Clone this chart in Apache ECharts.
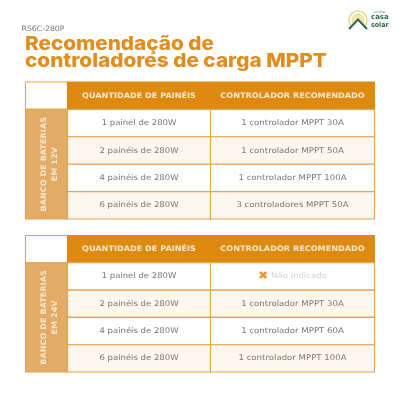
<!DOCTYPE html>
<html>
<head>
<meta charset="utf-8">
<style>
html, body { margin: 0; padding: 0; background: #fff; }
#chart { width: 400px; height: 400px; }
</style>
<script src="https://cdn.jsdelivr.net/npm/echarts@6/dist/echarts.min.js"></script>
</head>
<body>
<div id="chart"></div>
<script>
const modelLabel = "RS6C-280P";
const titleLines = ["Recomendação de", "controladores de carga MPPT"];
const columnHeaders = ["QUANTIDADE DE PAINÉIS", "CONTROLADOR RECOMENDADO"];
const panelCounts = ["1 painel de 280W", "2 painéis de 280W", "4 painéis de 280W", "6 painéis de 280W"];
const controllers12V = ["1 controlador MPPT 30A", "1 controlador MPPT 50A", "1 controlador MPPT 100A", "3 controladores MPPT 50A"];
const controllers24V = ["Não indicado", "1 controlador MPPT 30A", "1 controlador MPPT 60A", "1 controlador MPPT 100A"];
const bankLabels = ["BANCO DE BATERIAS\nEM 12V", "BANCO DE BATERIAS\nEM 24V"];
const notIndicated = "Não indicado";

// column edges of the table, in axis units
const colEdges = [0, 42, 185, 349];

const ORANGE = "#de8a10";
const BORDER = "#e5a44f";
const BAND = "#e2ab66";
const CREAM = "#fdf7ee";
const TEXT = "#777";
const FONT = "'DejaVu Sans'";

function buildCells(bank, controllers) {
    const cells = [[0, 0, 1, 1, "", "blank"], [1, 0, 1, 1, columnHeaders[0], "head"], [2, 0, 1, 1, columnHeaders[1], "head"]];
    cells.push([0, 1, 1, 4, bank, "band"]);
    panelCounts.forEach(function (p, i) {
        const kind = i % 2 === 0 ? "white" : "cream";
        cells.push([1, i + 1, 1, 1, p, kind]);
        cells.push([2, i + 1, 1, 1, controllers[i], kind]);
    });
    return cells;
}

function renderCell(params, api) {
    const col = api.value(0), row = api.value(1), rows = api.value(3);
    const text = api.value(4), kind = api.value(5);
    const p0 = api.coord([colEdges[col], row]);
    const p1 = api.coord([colEdges[col + 1], row + rows]);
    const cx = (p0[0] + p1[0]) / 2, cy = (p0[1] + p1[1]) / 2;
    const fills = { blank: "#fff", head: ORANGE, band: BAND, white: "#fff", cream: CREAM };
    const children = [{
        type: "rect",
        shape: { x: p0[0], y: p0[1], width: p1[0] - p0[0], height: p1[1] - p0[1] },
        style: { fill: fills[kind], stroke: kind === "head" ? ORANGE : BORDER, lineWidth: 1.1 }
    }];
    if (kind === "head") {
        children.push({
            type: "text", x: cx, y: cy, scaleX: 1.07,
            style: { text: text, align: "center", verticalAlign: "middle", fill: "#f9e8cc", font: "bold 7.6px " + FONT }
        });
    } else if (kind === "band") {
        children.push({
            type: "text", x: cx + 3, y: cy, rotation: Math.PI / 2, scaleX: 1.07,
            style: { text: text, align: "center", verticalAlign: "middle", fill: "#f7e6cf", font: "bold 7.6px " + FONT, lineHeight: 11 }
        });
    } else if (text === notIndicated) {
        children.push({
            type: "text", x: cx, y: cy, scaleX: 1.1,
            style: {
                text: "{x|✖} " + text, align: "center", verticalAlign: "middle",
                rich: { x: { fill: "#e8953a", font: "bold 11px " + FONT } },
                fill: "#d2d2d2", font: "7.8px " + FONT
            }
        });
    } else if (text) {
        children.push({
            type: "text", x: cx, y: cy, scaleX: col === 1 ? 1.09 : 1.1,
            style: { text: text, align: "center", verticalAlign: "middle", fill: TEXT, font: "7.8px " + FONT }
        });
    }
    return { type: "group", children: children };
}

function tableSeries(index, cells) {
    return {
        type: "custom",
        xAxisIndex: index,
        yAxisIndex: index,
        coordinateSystem: "cartesian2d",
        renderItem: renderCell,
        encode: { x: 0, y: 1 },
        data: cells,
        silent: true,
        clip: false
    };
}

function hiddenX(i) {
    return { type: "value", gridIndex: i, min: 0, max: 349, show: false };
}
function hiddenY(i) {
    return { type: "value", gridIndex: i, min: 0, max: 5, inverse: true, show: false };
}

const chart = echarts.init(document.getElementById("chart"));
chart.setOption({
    backgroundColor: "#fff",
    animation: false,
    grid: [
        { left: 25.5, width: 349, top: 82, height: 137 },
        { left: 25.5, width: 349, top: 235.5, height: 136.5 }
    ],
    xAxis: [hiddenX(0), hiddenX(1)],
    yAxis: [hiddenY(0), hiddenY(1)],
    series: [
        tableSeries(0, buildCells(bankLabels[0], controllers12V)),
        tableSeries(1, buildCells(bankLabels[1], controllers24V))
    ],
    graphic: [
        { type: "text", x: 21.5, y: 26, scaleX: 1.05, style: { text: modelLabel, fill: "#777", font: "7.4px " + FONT } },
        { type: "text", x: 25, y: 34.5, scaleX: 1.09, style: { text: titleLines[0], fill: "#df8e1f", font: "800 19px Inter" } },
        { type: "text", x: 25, y: 51.5, scaleX: 1.09, style: { text: titleLines[1], fill: "#df8e1f", font: "800 19px Inter" } },
        // logo
        { type: "circle", shape: { cx: 358, cy: 20, r: 9 }, style: { fill: "#fff", stroke: "#ecd98c", lineWidth: 1.6 } },
        { type: "circle", shape: { cx: 358, cy: 20, r: 6 }, style: { fill: "#f4e7ad", stroke: "#ecd98c", lineWidth: 1 } },
        { type: "polygon", shape: { points: [[347, 30], [369, 30], [358, 19]] }, style: { fill: "#fff" } },
        { type: "polyline", shape: { points: [[349, 29], [358, 19.5], [367, 29]] }, style: { stroke: "#2f6b4a", lineWidth: 2, fill: null } },
        { type: "text", x: 374, y: 10.5, style: { text: "minha", fill: "#6b8f6f", font: "3.5px " + FONT } },
        { type: "text", x: 371, y: 14, style: { text: "casa", fill: "#2f6b4a", font: "bold 7px " + FONT } },
        { type: "text", x: 371, y: 21.5, scaleX: 0.9, style: { text: "solar", fill: "#2f6b4a", font: "bold 7px " + FONT } }
    ]
});
</script>
</body>
</html>
